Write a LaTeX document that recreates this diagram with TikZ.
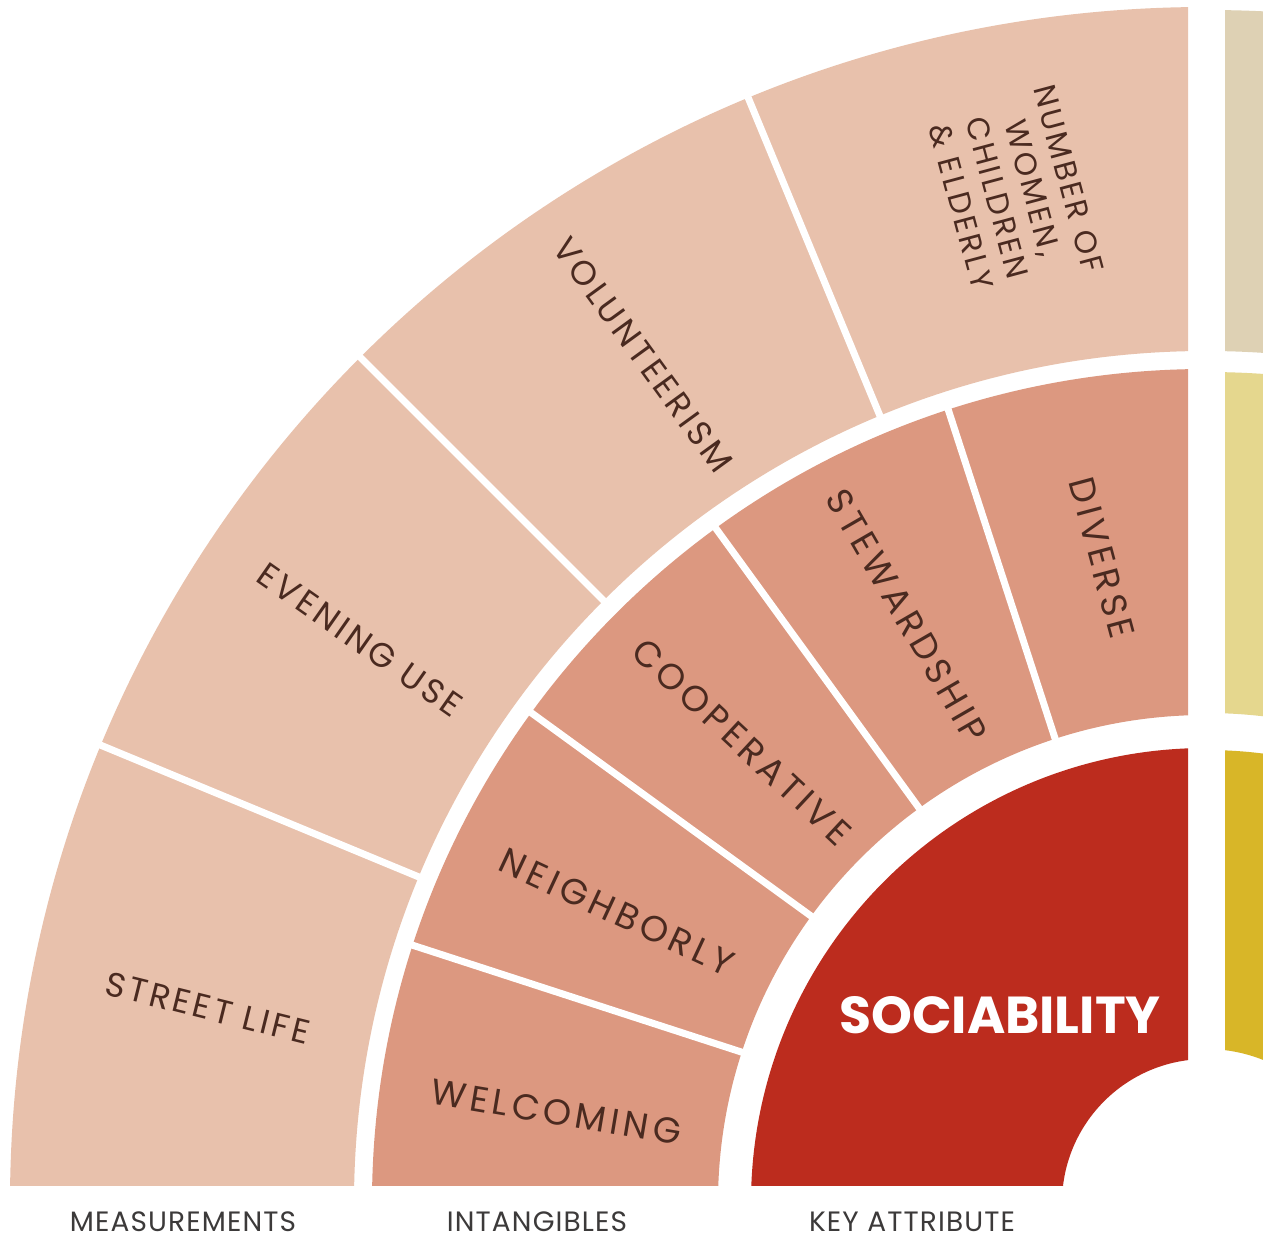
\documentclass[tikz,border=0pt]{standalone}
\usepackage{fontspec}
\usepackage{tikz}
\setmainfont{Poppins}
\newfontfamily\ringfont{Poppins}[LetterSpace=12]
\newfontfamily\outerfont{Poppins}[LetterSpace=10]
\newfontfamily\capfont{Poppins}[LetterSpace=4]
\definecolor{measure}{RGB}{232,193,172}
\definecolor{intang}{RGB}{220,152,128}
\definecolor{keyred}{RGB}{188,44,30}
\definecolor{sandbeige}{RGB}{222,209,180}
\definecolor{paleyellow}{RGB}{229,215,142}
\definecolor{deepyellow}{RGB}{216,182,40}
\definecolor{labelbrown}{RGB}{74,42,32}
\definecolor{capgray}{RGB}{60,58,58}

\begin{document}
\begin{tikzpicture}[x=1pt,y=1pt,
    divider/.style={white, line width=7pt},
    outlbl/.style={text=labelbrown, font=\outerfont\fontsize{34}{40}\selectfont, align=center, inner sep=0pt},
    inlbl/.style={text=labelbrown, font=\ringfont\fontsize{36}{40}\selectfont, align=center, inner sep=0pt},
    caption/.style={text=capgray, font=\capfont\fontsize{28}{32}\selectfont, inner sep=0pt, anchor=base}]
    \fill[white] (-1206,-37) rectangle (57,1203);
    \useasboundingbox (-1206,-37) rectangle (57,1203);

    % left quarter: measurements, intangibles, key attribute
    \begin{scope}
        \clip (-18,18) rectangle (-1206,1203);
        \fill[measure] (90:852pt) arc[start angle=90, end angle=180, radius=852pt]
            -- (180:1196pt) arc[start angle=180, end angle=90, radius=1196pt] -- cycle;
        \fill[intang] (90:488pt) arc[start angle=90, end angle=180, radius=488pt]
            -- (180:834pt) arc[start angle=180, end angle=90, radius=834pt] -- cycle;
        \fill[keyred] (90:144pt) arc[start angle=90, end angle=180, radius=144pt]
            -- (180:455pt) arc[start angle=180, end angle=90, radius=455pt] -- cycle;
    \end{scope}
    \foreach \a in {112.5,135,157.5}
        \draw[divider] (\a:846pt) -- (\a:1215pt);
    \foreach \a in {108,126,144,162}
        \draw[divider] (\a:482pt) -- (\a:840pt);

    % next quarter, only its edge is seen
    \begin{scope}
        \clip (19,18) rectangle (57,1203);
        \fill[sandbeige] (0:852pt) arc[start angle=0, end angle=90, radius=852pt]
            -- (90:1193pt) arc[start angle=90, end angle=0, radius=1193pt] -- cycle;
        \fill[paleyellow] (0:490pt) arc[start angle=0, end angle=90, radius=490pt]
            -- (90:831pt) arc[start angle=90, end angle=0, radius=831pt] -- cycle;
        \fill[deepyellow] (0:154pt) arc[start angle=0, end angle=90, radius=154pt]
            -- (90:453pt) arc[start angle=90, end angle=0, radius=453pt] -- cycle;
    \end{scope}

    % measurements
    \node[outlbl, rotate=-14] (street) at (-998,195) {STREET LIFE};
    \node[outlbl, rotate=-35] (evening) at (-846,563) {EVENING USE};
    \node[outlbl, rotate=-54] (volunteer) at (-563,848) {VOLUNTEERISM};
    \node[outlbl, rotate=-75, font=\outerfont\fontsize{31}{37}\selectfont] (number) at (-191,1010)
        {NUMBER OF\\WOMEN,\\CHILDREN\\\& ELDERLY};
    % intangibles
    \node[inlbl, rotate=-9.5] (welcoming) at (-650,91) {WELCOMING};
    \node[inlbl, rotate=-25] (neighborly) at (-589,291) {NEIGHBORLY};
    \node[inlbl, rotate=-43] (cooperative) at (-464,461) {COOPERATIVE};
    \node[inlbl, rotate=-60] (stewardship) at (-299,587) {STEWARDSHIP};
    \node[inlbl, rotate=-75] (diverse) at (-104,645) {DIVERSE};
    % key attribute
    \node[text=white, font=\bfseries\fontsize{52}{60}\selectfont, inner sep=0pt] (sociability) at (-206,188) {SOCIABILITY};

    % captions
    \node[caption] (measurements) at (-1023,-28) {MEASUREMENTS};
    \node[caption] (intangibles) at (-669,-28) {INTANGIBLES};
    \node[caption] (keyattr) at (-294,-28) {KEY ATTRIBUTE};
\end{tikzpicture}
\end{document}
